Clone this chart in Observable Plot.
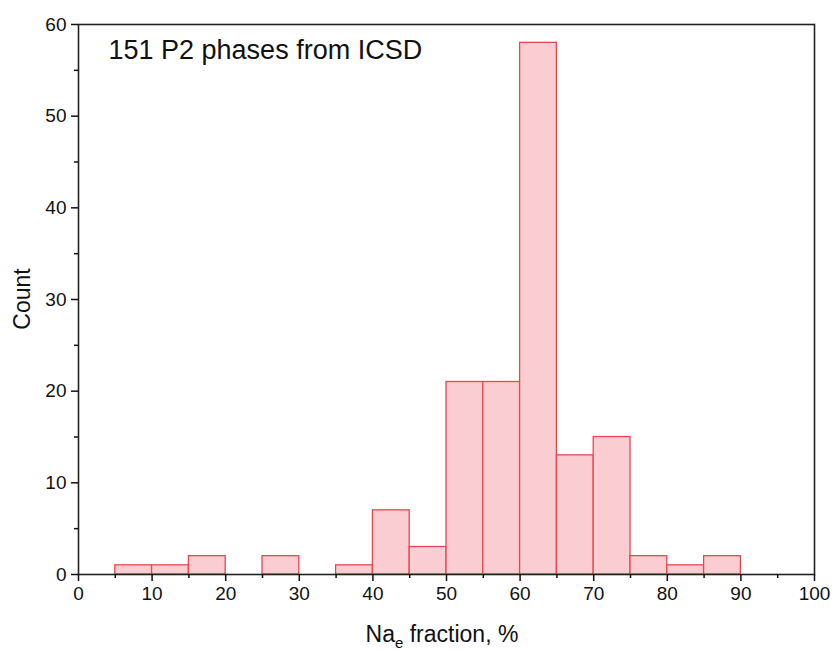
<!DOCTYPE html>
<html>
<head>
<meta charset="utf-8">
<script src="https://cdn.jsdelivr.net/npm/d3@7"></script>
<script src="https://cdn.jsdelivr.net/npm/@observablehq/plot@0.6"></script>
<style>
  body { margin: 0; background: #fff; }
  svg { font-family: "Liberation Sans", Arial, sans-serif; }
</style>
</head>
<body>
<div id="chart"></div>
<script>
const binLo = [5, 10, 15, 25, 35, 40, 45, 50, 55, 60, 65, 70, 75, 80, 85];
const binHi = [10, 15, 20, 30, 40, 45, 50, 55, 60, 65, 70, 75, 80, 85, 90];
const counts = [1, 1, 2, 2, 1, 7, 3, 21, 21, 58, 13, 15, 2, 1, 2];
const xMajorTicks = [0, 10, 20, 30, 40, 50, 60, 70, 80, 90, 100];
const xMinorTicks = [5, 15, 25, 35, 45, 55, 65, 75, 85, 95];
const yMajorTicks = [0, 10, 20, 30, 40, 50, 60];
const yMinorTicks = [5, 15, 25, 35, 45, 55];
const titleText = "151 P2 phases from ICSD";
const yLabel = "Count";

const bins = binLo.map((lo, i) => ({x1: lo, x2: binHi[i], y: counts[i]}));

const plot = Plot.plot({
  width: 835,
  height: 650,
  marginLeft: 78,
  marginRight: 21,
  marginTop: 24,
  marginBottom: 76,
  style: {fontFamily: "Liberation Sans, Arial, sans-serif", color: "#111"},
  x: {domain: [0, 100]},
  y: {domain: [0, 60]},
  marks: [
    Plot.rectY(bins, {x1: "x1", x2: "x2", y: "y", fill: "#f9cdd1", stroke: "#e8474f", strokeWidth: 1.3, inset: 0}),
    Plot.frame({stroke: "#222", strokeWidth: 1.6}),
    Plot.axisX({ticks: xMajorTicks, tickSize: 7, tickPadding: 5, tickFormat: d => String(d), label: null, strokeWidth: 1.5}),
    Plot.axisX({ticks: xMinorTicks, tickSize: 4, tickFormat: () => "", label: null, strokeWidth: 1.5}),
    Plot.axisY({ticks: yMajorTicks, tickSize: 7, tickPadding: 5, tickFormat: d => String(d), label: null, strokeWidth: 1.5}),
    Plot.axisY({ticks: yMinorTicks, tickSize: 4, tickFormat: () => "", label: null, strokeWidth: 1.5}),
    Plot.text([titleText], {frameAnchor: "top-left", dx: 30, dy: 15, fontSize: 27, fill: "#111", text: d => d})
  ]
});

document.getElementById("chart").appendChild(plot);

const svg = d3.select(plot);
// enlarge numeric tick labels
svg.selectAll("text")
  .filter(function() { return /^\d+$/.test(this.textContent.trim()); })
  .style("font-size", "19px");

// Axis titles (x title needs a subscript)
const xs = plot.scale("x");
const ys = plot.scale("y");
const xt = svg.append("text")
  .attr("x", xs.apply(50) - 4)
  .attr("y", 642)
  .attr("text-anchor", "middle")
  .style("font-size", "23px")
  .attr("fill", "#111");
xt.append("tspan").text("Na");
xt.append("tspan").style("font-size", "15px").attr("dy", 6).text("e");
xt.append("tspan").attr("dy", -6).text(" fraction, %");

svg.append("text")
  .attr("transform", `translate(30,${ys.apply(30)}) rotate(-90)`)
  .attr("text-anchor", "middle")
  .style("font-size", "23px")
  .attr("fill", "#111")
  .text(yLabel);
</script>
</body>
</html>
